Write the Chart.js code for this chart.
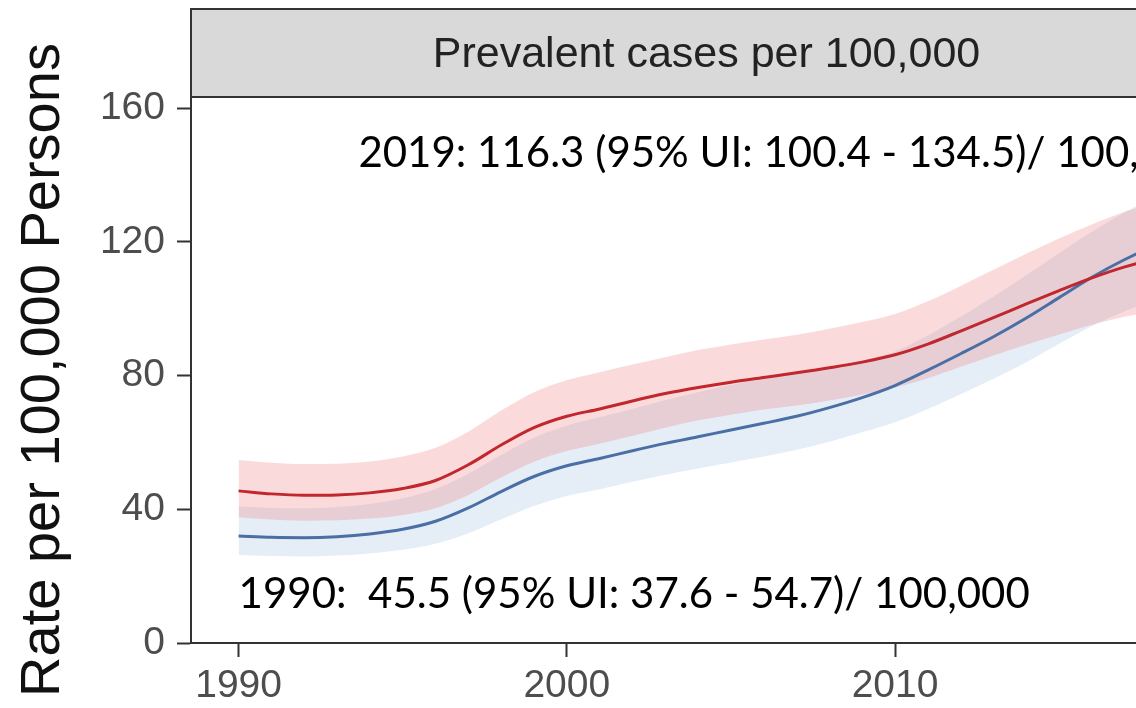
<!DOCTYPE html>
<html lang="en">

<head>
    <meta charset="UTF-8">
    <title>Prevalent cases per 100,000</title>
    <script src="https://cdn.jsdelivr.net/npm/chart.js"></script>
    <style>
        html, body { margin: 0; padding: 0; background: #fff; overflow: hidden; }
        #wrap { width: 1136px; height: 708px; overflow: hidden; }
    </style>
</head>

<body>
    <div id="wrap">
        <canvas id="prevChart" width="1250" height="708"></canvas>
    </div>

    <script>
        // years shown on the x axis
        const years = [1990, 1991, 1992, 1993, 1994, 1995, 1996, 1997, 1998, 1999,
            2000, 2001, 2002, 2003, 2004, 2005, 2006, 2007, 2008, 2009,
            2010, 2011, 2012, 2013, 2014, 2015, 2016, 2017, 2018, 2019];

        // red series + uncertainty interval
        const redRate = [45.5, 44.6, 44.2, 44.3, 44.9, 46.2, 48.6, 53.3, 59.2, 64.4,
            67.8, 70.0, 72.4, 74.6, 76.4, 78.0, 79.4, 80.8, 82.3, 84.0,
            86.2, 89.4, 93.3, 97.3, 101.4, 105.4, 109.2, 112.5, 114.9, 116.3];
        const redUpper = [54.7, 53.9, 53.5, 53.6, 54.3, 55.8, 58.4, 63.2, 69.5, 75.0,
            78.6, 81.0, 83.3, 85.5, 87.6, 89.3, 90.8, 92.2, 94.0, 96.0,
            98.4, 102.2, 106.8, 111.6, 116.4, 121.0, 125.2, 129.0, 132.0, 134.5];
        const redLower = [37.6, 36.9, 36.6, 36.7, 37.2, 38.3, 40.3, 44.3, 49.5, 54.2,
            57.4, 59.6, 62.0, 64.4, 66.6, 68.3, 69.8, 71.0, 72.5, 74.3,
            76.4, 79.2, 82.6, 86.0, 89.2, 92.3, 95.2, 97.6, 99.3, 100.4];

        // blue series + uncertainty interval
        const blueRate = [32.0, 31.6, 31.5, 31.8, 32.6, 34.0, 36.4, 40.4, 45.3, 49.8,
            53.0, 55.2, 57.5, 59.7, 61.7, 63.7, 65.7, 67.8, 70.4, 73.4,
            77.0, 81.6, 86.5, 91.6, 97.2, 103.3, 109.4, 114.7, 119.2, 123.0];
        const blueUpper = [40.8, 40.4, 40.3, 40.7, 41.6, 43.3, 46.0, 50.6, 56.2, 61.4,
            65.0, 67.5, 70.0, 72.6, 75.0, 77.2, 79.0, 80.6, 82.4, 84.4,
            87.2, 92.0, 97.6, 103.6, 110.0, 116.6, 123.0, 128.8, 134.0, 139.0];
        const blueLower = [26.3, 26.0, 25.9, 26.2, 26.8, 27.9, 29.7, 32.8, 37.0, 41.0,
            44.0, 46.0, 48.2, 50.3, 52.2, 54.0, 55.8, 57.8, 60.2, 63.0,
            66.0, 70.0, 74.4, 79.0, 84.0, 89.5, 94.8, 99.2, 103.0, 106.5];

        const xTickValues = [1990, 2000, 2010, 2020];
        const yTickValues = [0, 40, 80, 120, 160];

        const stripTitle = 'Prevalent cases per 100,000';
        const yTitle = 'Rate per 100,000 Persons';

        // text labels placed in data units
        const notes = [
            { text: '2019: 116.3 (95% UI: 100.4 - 134.5)/ 100,000', x: 1993.65, y: 142.4 },
            { text: '1990:  45.5 (95% UI: 37.6 - 54.7)/ 100,000', x: 1990, y: 10.5 }
        ];

        const pts = arr => arr.map((v, i) => ({ x: years[i], y: v }));

        // grey facet strip above the panel + text notes
        const stripPlugin = {
            id: 'strip',
            afterDraw(chart) {
                const { ctx, chartArea, scales } = chart;
                ctx.save();
                ctx.fillStyle = '#d9d9d9';
                ctx.strokeStyle = '#333';
                ctx.lineWidth = 2;
                ctx.fillRect(chartArea.left, 9, chartArea.right - chartArea.left, chartArea.top - 9);
                ctx.strokeRect(chartArea.left, 9, chartArea.right - chartArea.left, chartArea.top - 9);
                ctx.fillStyle = '#222';
                ctx.font = '43px "Liberation Sans", Arial, sans-serif';
                ctx.textAlign = 'center';
                ctx.textBaseline = 'middle';
                ctx.fillText(stripTitle, (chartArea.left + chartArea.right) / 2 - 8, (9 + chartArea.top) / 2 + 2);

                ctx.fillStyle = '#000';
                ctx.font = '42px Lato, "Open Sans", sans-serif';
                ctx.textAlign = 'left';
                ctx.textBaseline = 'alphabetic';
                notes.forEach(n => {
                    ctx.fillText(n.text, scales.x.getPixelForValue(n.x), scales.y.getPixelForValue(n.y));
                });
                ctx.restore();
            }
        };

        const ctx = document.getElementById('prevChart').getContext('2d');
        new Chart(ctx, {
            type: 'line',
            data: {
                datasets: [
                    { data: pts(redRate), borderColor: '#c1272d', borderWidth: 3, fill: false },
                    { data: pts(blueRate), borderColor: '#4a6fa5', borderWidth: 3, fill: false },
                    { data: pts(redUpper), borderWidth: 0, fill: '+1', backgroundColor: 'rgba(236,120,120,0.27)' },
                    { data: pts(redLower), borderWidth: 0, fill: false },
                    { data: pts(blueUpper), borderWidth: 0, fill: '+1', backgroundColor: 'rgba(125,165,215,0.2)' },
                    { data: pts(blueLower), borderWidth: 0, fill: false }
                ]
            },
            options: {
                responsive: false,
                animation: false,
                events: [],
                layout: { padding: { left: 6, top: 97, right: 12, bottom: 0 } },
                elements: {
                    point: { radius: 0 },
                    line: { tension: 0.4, cubicInterpolationMode: 'monotone' }
                },
                plugins: {
                    legend: { display: false },
                    tooltip: { enabled: false }
                },
                scales: {
                    x: {
                        type: 'linear',
                        min: 1988.55,
                        max: 2020.45,
                        afterBuildTicks: s => { s.ticks = xTickValues.map(v => ({ value: v })); },
                        afterFit: s => { s.height = 65; s.paddingLeft = 0; s.paddingRight = 0; },
                        grid: { drawOnChartArea: false, tickLength: 14, color: '#333', tickWidth: 2 },
                        border: { color: '#333', width: 2 },
                        ticks: {
                            padding: 6,
                            maxRotation: 0,
                            color: '#4d4d4d',
                            font: { family: '"Liberation Sans", Arial, sans-serif', size: 39 },
                            callback: v => String(v)
                        }
                    },
                    y: {
                        min: 0,
                        max: 163.3,
                        afterBuildTicks: s => { s.ticks = yTickValues.map(v => ({ value: v })); },
                        afterFit: s => { s.width = 185; s.paddingTop = 0; s.paddingBottom = 0; },
                        grid: { drawOnChartArea: false, tickLength: 14, color: '#333', tickWidth: 2 },
                        border: { color: '#333', width: 2 },
                        title: {
                            display: true,
                            text: yTitle,
                            color: '#111',
                            padding: { top: 4, bottom: 0 },
                            font: { family: '"Liberation Sans", Arial, sans-serif', size: 56 }
                        },
                        ticks: {
                            padding: 12,
                            color: '#4d4d4d',
                            font: { family: '"Liberation Sans", Arial, sans-serif', size: 39 }
                        }
                    }
                }
            },
            plugins: [stripPlugin]
        });
    </script>
</body>

</html>
